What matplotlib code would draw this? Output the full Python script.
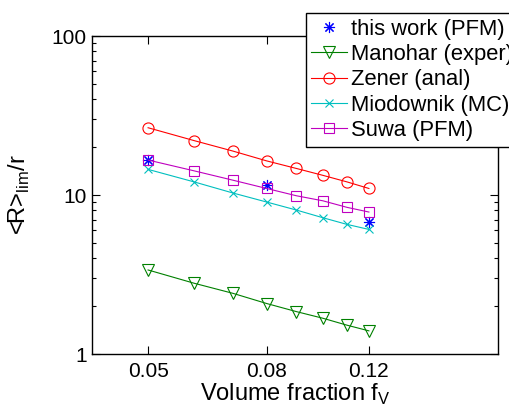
import numpy as np
import matplotlib
matplotlib.use('Agg')
import matplotlib.pyplot as plt
from matplotlib.ticker import FixedLocator, NullLocator, NullFormatter

plt.rcParams['font.family'] = ['Liberation Sans', 'DejaVu Sans']
plt.rcParams['mathtext.fontset'] = 'custom'
plt.rcParams['mathtext.rm'] = 'Liberation Sans'

# volume fractions
f_v = [0.05, 0.06, 0.07, 0.08, 0.09, 0.10, 0.11, 0.12]
f_this = [0.05, 0.08, 0.12]

# <R>lim / r values
this_work = [16.6, 11.6, 6.8]
manohar = [3.38, 2.79, 2.41, 2.08, 1.85, 1.68, 1.52, 1.40]
zener = [26.5, 22.0, 18.9, 16.4, 14.7, 13.3, 12.1, 11.0]
miodownik = [14.5, 12.1, 10.3, 9.04, 8.05, 7.2, 6.54, 6.08]
suwa = [16.6, 14.2, 12.4, 11.0, 9.9, 9.2, 8.37, 7.82]

xticks = [0.05, 0.08, 0.12]
xtick_labels = ['0.05', '0.08', '0.12']

fig = plt.figure(figsize=(5.10, 4.07), dpi=100)
ax = fig.add_axes([0.180, 0.130, 0.796, 0.7815])

lw = 0.8
ax.plot(f_this, this_work, linestyle='none', marker=(8, 2, 0), color='b',
        markersize=8, markeredgewidth=lw, label='this work (PFM)')
ax.plot(f_v, manohar, '-v', color=(0, 0.5, 0), markersize=8, mfc='none',
        lw=lw, mew=lw, label='Manohar (exper)')
ax.plot(f_v, zener, '-o', color='r', markersize=8, mfc='none',
        lw=lw, mew=lw, label='Zener (anal)')
ax.plot(f_v, miodownik, '-x', color=(0, 0.75, 0.75), markersize=6,
        lw=lw, mew=lw, label='Miodownik (MC)')
ax.plot(f_v, suwa, '-s', color=(0.75, 0, 0.75), markersize=6.5, mfc='none',
        lw=lw, mew=lw, label='Suwa (PFM)')

ax.set_xscale('log')
ax.set_yscale('log')
ax.set_xlim(0.04, 0.2)
ax.set_ylim(1, 100)

ax.xaxis.set_major_locator(FixedLocator(xticks))
ax.set_xticklabels(xtick_labels)
ax.xaxis.set_minor_locator(NullLocator())
ax.xaxis.set_minor_formatter(NullFormatter())
ax.set_yticks([1, 10, 100])
ax.set_yticklabels(['1', '10', '100'])

ax.tick_params(which='both', direction='in', top=True, right=True,
               labelsize=15, width=0.8)
ax.tick_params(which='major', length=5.5)
ax.tick_params(which='minor', length=3)
ax.tick_params(axis='x', pad=6)
for s in ax.spines.values():
    s.set_linewidth(1.0)

ax.set_xlabel(r'Volume fraction f$_{\rm V}$', fontsize=17, labelpad=0)
ax.set_ylabel(r'<R>$_{\rm lim}$/r', fontsize=17, labelpad=14)

leg = fig.legend(loc='upper left', bbox_to_anchor=(0.6, 0.968),
                 fontsize=15.8, frameon=True, fancybox=False, edgecolor='k',
                 framealpha=1, borderpad=0.25, labelspacing=0.2,
                 handlelength=1.6, handletextpad=0.2, borderaxespad=0)
leg.get_frame().set_linewidth(1.0)

fig.savefig('out.png', dpi=100)
